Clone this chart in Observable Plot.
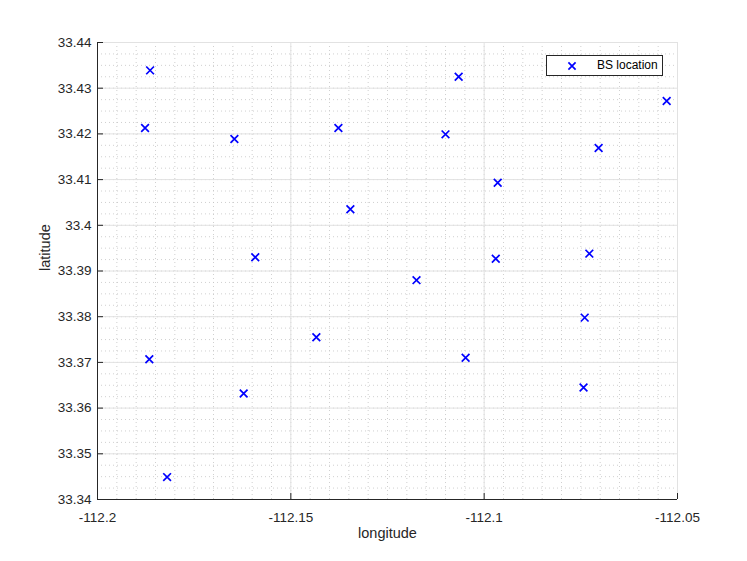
<!DOCTYPE html>
<html>
<head>
<meta charset="utf-8">
<script src="https://cdn.jsdelivr.net/npm/d3@7"></script>
<script src="https://cdn.jsdelivr.net/npm/@observablehq/plot@0.6"></script>
<style>
  html, body { margin: 0; padding: 0; background: #fff; }
  #wrap { position: relative; width: 747px; height: 561px; font-family: "Liberation Sans", Arial, Helvetica, sans-serif; }
  #legend { position: absolute; left: 546px; top: 55px; width: 115px; height: 19px; border: 1px solid #262626; background: #fff; }
  #legend svg { position: absolute; left: 20px; top: 5px; }
  #legend span { position: absolute; left: 50px; top: 2px; font-size: 12px; color: #000; }
</style>
</head>
<body>
<div id="wrap"></div>
<script>
// BS locations
const lon = [-112.1864, -112.1877, -112.1646, -112.1377, -112.1346, -112.1592, -112.1066, -112.1100, -112.0965, -112.1175, -112.0970, -112.0528, -112.0704, -112.0728, -112.0740, -112.0743, -112.1048, -112.1434, -112.1866, -112.1622, -112.1820];
const lat = [33.4339, 33.4213, 33.4189, 33.4213, 33.4035, 33.3930, 33.4325, 33.4199, 33.4093, 33.3880, 33.3927, 33.4272, 33.4169, 33.3938, 33.3798, 33.3645, 33.3710, 33.3755, 33.3707, 33.3632, 33.3449];

const xTicks = [-112.2, -112.15, -112.1, -112.05];
const yTicks = [33.34, 33.35, 33.36, 33.37, 33.38, 33.39, 33.4, 33.41, 33.42, 33.43, 33.44];
const xMinor = d3.range(0, 31).map(i => +(-112.2 + i * 0.005).toFixed(3));
const yMinor = d3.range(0, 41).map(i => +(33.34 + i * 0.0025).toFixed(4));

const xDomain = [-112.2, -112.05];
const yDomain = [33.34, 33.44];

const pts = lon.map((x, i) => ({lon: x, lat: lat[i]}));
const font = "Liberation Sans, Arial, Helvetica, sans-serif";

const chart = Plot.plot({
  width: 747,
  height: 561,
  marginLeft: 97,
  marginRight: 70,
  marginTop: 42,
  marginBottom: 62,
  style: {fontFamily: font, fontSize: "13.5px", color: "#262626", background: "#fff"},
  x: {domain: xDomain, axis: null},
  y: {domain: yDomain, axis: null},
  marks: [
    Plot.ruleX(xMinor, {x: d => d, stroke: "#c4c4c4", strokeWidth: 0.8, strokeDasharray: "1,3"}),
    Plot.ruleY(yMinor, {y: d => d, stroke: "#c4c4c4", strokeWidth: 0.8, strokeDasharray: "1,3"}),
    Plot.ruleX(xTicks, {x: d => d, stroke: "#e2e2e2", strokeWidth: 1}),
    Plot.ruleY(yTicks, {y: d => d, stroke: "#e2e2e2", strokeWidth: 1}),
    // axis lines
    Plot.ruleX([xDomain[0]], {x: d => d, stroke: "#262626", strokeWidth: 1}),
    Plot.ruleY([yDomain[0]], {y: d => d, stroke: "#262626", strokeWidth: 1}),
    // inward ticks
    Plot.ruleX(xTicks, {x: d => d, y1: yDomain[0], y2: yDomain[0], insetTop: -6, stroke: "#262626", strokeWidth: 1}),
    Plot.ruleY(yTicks, {y: d => d, x1: xDomain[0], x2: xDomain[0], insetRight: -6, stroke: "#262626", strokeWidth: 1}),
    // tick labels
    Plot.text(xTicks, {x: d => d, y: yDomain[0], dy: 18, text: d => String(d), fontSize: 13.5, fill: "#262626"}),
    Plot.text(yTicks, {y: d => d, x: xDomain[0], dx: -6, textAnchor: "end", text: d => String(d), fontSize: 13.5, fill: "#262626"}),
    // axis titles
    Plot.text(["longitude"], {frameAnchor: "bottom", dy: 34, lineAnchor: "middle", text: d => d, fontSize: 14.5, fill: "#262626"}),
    Plot.text(["latitude"], {frameAnchor: "left", dx: -52, rotate: -90, text: d => d, fontSize: 14.5, fill: "#262626"}),
    Plot.dot(pts, {x: "lon", y: "lat", symbol: "times", r: 3.6, stroke: "#0000ff", strokeWidth: 1.7})
  ]
});

const wrap = document.getElementById("wrap");
wrap.appendChild(chart);

const legend = document.createElement("div");
legend.id = "legend";
legend.innerHTML = '<svg width="10" height="10" viewBox="-5 -5 10 10"><path d="M-3.6,-3.6L3.6,3.6M-3.6,3.6L3.6,-3.6" stroke="#0000ff" stroke-width="1.7"/></svg><span>BS location</span>';
wrap.appendChild(legend);
</script>
</body>
</html>
